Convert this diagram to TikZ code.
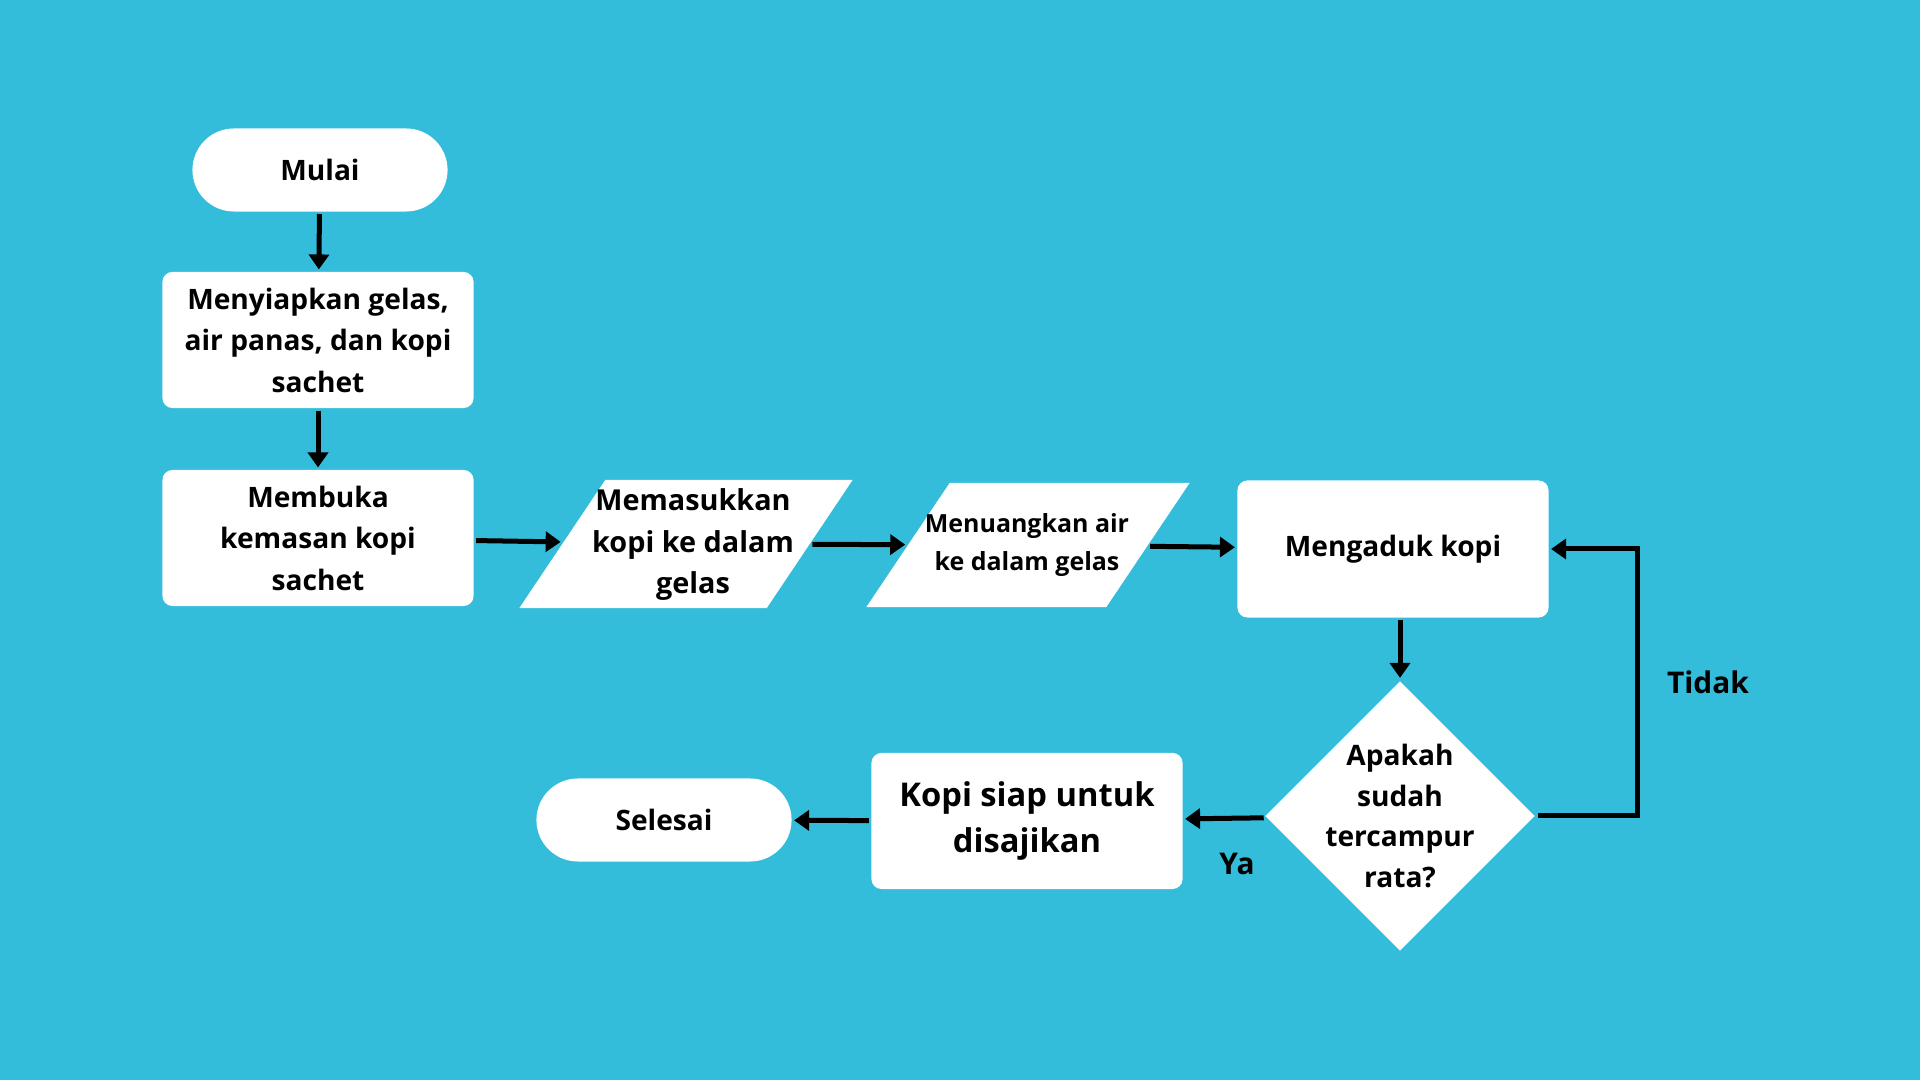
\documentclass[tikz,border=0pt]{standalone}
\usepackage{fontspec}
\setmainfont{Open Sans}
\usepackage{tikz}
\usetikzlibrary{arrows.meta,shapes.geometric}
\definecolor{latar}{HTML}{33BDDA}

\begin{document}
\begin{tikzpicture}[x=0.01cm,y=-0.01cm,line width=0.05cm,
  kotak/.style={fill=white,rounded corners=0.1cm,minimum width=3.11cm,minimum height=1.36cm,align=center,inner sep=0pt,font=\bfseries\fontsize{8}{11.8}\selectfont},
  ujung/.style={fill=white,rounded corners=0.415cm,minimum width=2.55cm,minimum height=0.83cm,font=\bfseries\fontsize{8}{11.8}\selectfont},
  jajar/.style={trapezium,trapezium left angle=62,trapezium right angle=118,trapezium stretches=true,fill=white,inner sep=1pt},
  tulis/.style={align=center,inner sep=0pt},
  panah/.style={-{Triangle[width=0.2cm,length=0.15cm]}}]
\fill[latar] (0,0) rectangle (1920,1080);

\node[ujung] (mulai) at (320,170) {Mulai};
\node[kotak] (siap) at (318,340) {Menyiapkan gelas,\\air panas, dan kopi\\sachet};
\node[kotak] (buka) at (318,538) {Membuka\\kemasan kopi\\sachet};
\node[jajar,minimum width=3.33cm,minimum height=1.28cm] (masuk) at (686,544) {};
\node[tulis,font=\bfseries\fontsize{8.2}{11.8}\selectfont] (masuktulis) at (693,545) {Memasukkan\\kopi ke dalam\\gelas};
\node[jajar,minimum width=3.23cm,minimum height=1.24cm] (tuang) at (1028,545) {};
\node[tulis,font=\bfseries\fontsize{7.1}{10.8}\selectfont] (tuangtulis) at (1027,545) {Menuangkan air\\ke dalam gelas};
\node[kotak,minimum height=1.37cm] (aduk) at (1393,549) {Mengaduk kopi};
\node[diamond,fill=white,minimum width=2.71cm,minimum height=2.71cm,inner sep=0pt] (cek) at (1400,816) {};
\node[tulis,font=\bfseries\fontsize{8}{11.5}\selectfont] (cektulis) at (cek) {Apakah\\sudah\\tercampur\\rata?};
\node[kotak,font=\bfseries\fontsize{9.3}{13.2}\selectfont] (saji) at (1027,821) {Kopi siap untuk\\disajikan};
\node[ujung] (selesai) at (664,820) {Selesai};
\node[font=\bfseries\fontsize{8.5}{10}\selectfont] (tidak) at (1708,682) {Tidak};
\node[font=\bfseries\fontsize{8.5}{10}\selectfont] (ya) at (1237,864) {Ya};

\draw[panah] (mulai) -- (siap);
\draw[panah] (siap) -- (buka);
\draw[panah] (buka) -- (masuk);
\draw[panah] (masuk) -- (tuang);
\draw[panah] (tuang) -- (aduk);
\draw[panah] (aduk.south -| cek.north) -- (cek.north);
\draw[panah] (cek) -- (saji);
\draw[panah] (saji) -- (selesai);

\coordinate (belok) at (1637,816);
\draw[panah] (cek.east) -- (belok) |- (aduk.east);

\end{tikzpicture}
\end{document}
